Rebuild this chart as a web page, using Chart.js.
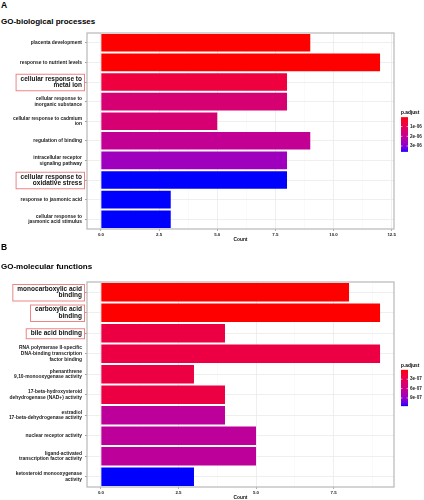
<!DOCTYPE html>
<html>
<head>
<meta charset="utf-8">
<script src="https://cdn.jsdelivr.net/npm/chart.js@4.4.1/dist/chart.umd.min.js"></script>
<style>
  body { margin: 0; width: 424px; height: 500px; position: relative; overflow: hidden; background: #fff;
         font-family: "Liberation Sans", Arial, sans-serif; color: #000; }
  .tag { position: absolute; left: 1px; font-weight: bold; font-size: 8.5px; line-height: 1; }
  .ttl { position: absolute; left: 1px; font-weight: bold; font-size: 8px; line-height: 1; }
  canvas { position: absolute; left: 0; }
</style>
</head>
<body>
<div class="tag" style="top:1px">A</div>
<div class="ttl" style="top:18px">GO-biological processes</div>
<canvas id="bp" width="424" height="215" style="top:28px"></canvas>
<div class="tag" style="top:243px">B</div>
<div class="ttl" style="top:263px">GO-molecular functions</div>
<canvas id="mf" width="424" height="224" style="top:277px"></canvas>
<script>
// --- A: GO biological processes ---
const bpTerms = [
  'placenta development',
  'response to nutrient levels',
  ['cellular response to', 'metal ion'],
  ['cellular response to', 'inorganic substance'],
  ['cellular response to cadmium', 'ion'],
  'regulation of binding',
  ['intracellular receptor', 'signaling pathway'],
  ['cellular response to', 'oxidative stress'],
  'response to jasmonic acid',
  ['cellular response to', 'jasmonic acid stimulus']
];
const bpCount = [9, 12, 8, 8, 5, 9, 8, 8, 3, 3];
const bpPadj = [3e-8, 3e-8, 0.67e-6, 1.46e-6, 1.46e-6, 1.99e-6, 2.64e-6, 3.6e-6, 3.6e-6, 3.6e-6];
const bpMarked = [false, false, true, false, false, false, false, true, false, false];
const bpTicks = [0, 2.5, 5, 7.5, 10, 12.5];
const bpTickLabels = ['0.0', '2.5', '5.0', '7.5', '10.0', '12.5'];
const bpKeyValues = [1e-6, 2e-6, 3e-6];
const bpKeyLabels = ['1e-06', '2e-06', '3e-06'];

// --- B: GO molecular functions ---
const mfTerms = [
  ['monocarboxylic acid', 'binding'],
  ['carboxylic acid', 'binding'],
  'bile acid binding',
  ['RNA polymerase II-specific', 'DNA-binding transcription', 'factor binding'],
  ['phenanthrene', '9,10-monooxygenase activity'],
  ['17-beta-hydroxysteroid', 'dehydrogenase (NAD+) activity'],
  ['estradiol', '17-beta-dehydrogenase activity'],
  'nuclear receptor activity',
  ['ligand-activated', 'transcription factor activity'],
  ['ketosteroid monooxygenase', 'activity']
];
const mfCount = [8, 9, 4, 9, 3, 4, 4, 5, 5, 3];
const mfPadj = [2e-9, 2e-9, 2.3e-7, 2.3e-7, 2.3e-7, 2.3e-7, 6.7e-7, 6.7e-7, 6.7e-7, 1.16e-6];
const mfMarked = [true, true, true, false, false, false, false, false, false, false];
const mfTicks = [0, 2.5, 5, 7.5];
const mfTickLabels = ['0.0', '2.5', '5.0', '7.5'];
const mfKeyValues = [3e-7, 6e-7, 9e-7];
const mfKeyLabels = ['3e-07', '6e-07', '9e-07'];

// red -> blue in Lab space, like ggplot's continuous colour scale
const lin = c => { c /= 255; return c <= 0.04045 ? c / 12.92 : Math.pow((c + 0.055) / 1.055, 2.4); };
const gam = c => { c = c <= 0.0031308 ? 12.92 * c : 1.055 * Math.pow(c, 1 / 2.4) - 0.055; return Math.round(Math.max(0, Math.min(1, c)) * 255); };
function rgb2lab(rgb) {
  const [r, g, b] = rgb.map(lin);
  const x = (0.4124 * r + 0.3576 * g + 0.1805 * b) / 0.95047;
  const y = 0.2126 * r + 0.7152 * g + 0.0722 * b;
  const z = (0.0193 * r + 0.1192 * g + 0.9505 * b) / 1.08883;
  const f = t => t > 0.008856 ? Math.cbrt(t) : 7.787 * t + 16 / 116;
  return [116 * f(y) - 16, 500 * (f(x) - f(y)), 200 * (f(y) - f(z))];
}
function lab2rgb([L, a, bb]) {
  const fy = (L + 16) / 116, fx = fy + a / 500, fz = fy - bb / 200;
  const fi = t => t * t * t > 0.008856 ? t * t * t : (t - 16 / 116) / 7.787;
  const x = fi(fx) * 0.95047, y = fi(fy), z = fi(fz) * 1.08883;
  const r = 3.2406 * x - 1.5372 * y - 0.4986 * z;
  const g = -0.9689 * x + 1.8758 * y + 0.0415 * z;
  const b = 0.0557 * x - 0.2040 * y + 1.0570 * z;
  return 'rgb(' + gam(r) + ',' + gam(g) + ',' + gam(b) + ')';
}
const LOW = rgb2lab([255, 0, 0]), HIGH = rgb2lab([0, 0, 255]);
const padjColor = t => lab2rgb(LOW.map((v, i) => v + (HIGH[i] - v) * t));

const SMALL = { family: 'Liberation Sans', size: 4.9, weight: 'bold', lineHeight: 1.15 };
const BOLD = { family: 'Liberation Sans', size: 6.5, weight: 'bold', lineHeight: 1.0 };

const panelBorder = {
  id: 'panelBorder',
  afterDraw(chart) {
    const { ctx, chartArea: a } = chart;
    ctx.save();
    ctx.strokeStyle = '#b8b8b8';
    ctx.lineWidth = 1.2;
    ctx.strokeRect(a.left, a.top, a.right - a.left, a.bottom - a.top);
    ctx.restore();
  }
};

// red boxes around the highlighted terms
const markBoxes = {
  id: 'markBoxes',
  afterDraw(chart, args, opts) {
    const { ctx } = chart;
    const sy = chart.scales.y;
    ctx.save();
    ctx.font = 'bold ' + BOLD.size + 'px "Liberation Sans"';
    ctx.strokeStyle = '#ee8585';
    ctx.lineWidth = 1;
    opts.marked.forEach((m, i) => {
      if (!m) return;
      const label = chart.data.labels[i];
      const lines = Array.isArray(label) ? label : [label];
      const w = Math.max(...lines.map(l => ctx.measureText(l).width));
      const h = lines.length * BOLD.size * BOLD.lineHeight + 3.5;
      const right = sy.right - 5 + 2.5;
      const y = sy.getPixelForTick(i);
      ctx.strokeRect(right - w - 7, y - h / 2 + 0.5, w + 7, h);
    });
    ctx.restore();
  }
};

// colour bar key for p.adjust
const padjLegend = {
  id: 'padjLegend',
  afterDraw(chart, args, opts) {
    const { ctx, chartArea: a } = chart;
    const barH = (a.bottom - a.top) * 0.177;
    const top = (a.top + a.bottom) / 2 - (barH - 7) / 2;
    const x = a.right + 7, w = 7;
    ctx.save();
    ctx.fillStyle = '#000';
    ctx.font = 'bold 4.8px "Liberation Sans"';
    ctx.textBaseline = 'middle';
    ctx.fillText('p.adjust', x, top - 4.5);
    const grad = ctx.createLinearGradient(0, top, 0, top + barH);
    for (let k = 0; k <= 20; k++) grad.addColorStop(k / 20, padjColor(k / 20));
    ctx.fillStyle = grad;
    ctx.fillRect(x, top, w, barH);
    ctx.font = 'bold 4.6px "Liberation Sans"';
    ctx.fillStyle = '#222';
    ctx.strokeStyle = '#fff';
    ctx.lineWidth = 0.6;
    opts.values.forEach((v, i) => {
      const y = top + (v - opts.min) / (opts.max - opts.min) * barH;
      ctx.beginPath();
      ctx.moveTo(x, y); ctx.lineTo(x + 1.4, y);
      ctx.moveTo(x + w - 1.4, y); ctx.lineTo(x + w, y);
      ctx.stroke();
      ctx.fillText(opts.labels[i], x + w + 2, y);
    });
    ctx.restore();
  }
};

function buildChart(id, terms, counts, padj, marked, ticks, tickLabels, keyValues, keyLabels) {
  const pMin = Math.min(...padj), pMax = Math.max(...padj);
  const maxCount = Math.max(...counts);
  const xMin = -0.05 * maxCount, xMax = maxCount * 1.05;
  const step = ticks[1] - ticks[0];
  const allTicks = ticks.slice();
  for (let v = ticks[0] - step / 2; v <= xMax; v += step) if (v >= xMin) allTicks.push(v);
  allTicks.sort((p, q) => p - q);
  const isMajor = v => ticks.indexOf(v) >= 0;

  return new Chart(document.getElementById(id), {
    type: 'bar',
    data: {
      labels: terms,
      datasets: [{
        data: counts,
        backgroundColor: padj.map(p => padjColor((p - pMin) / (pMax - pMin))),
        borderWidth: 0,
        barPercentage: 0.9,
        categoryPercentage: 1
      }]
    },
    options: {
      indexAxis: 'y',
      responsive: false,
      animation: false,
      events: [],
      layout: { padding: { top: 5, right: 30, left: 0, bottom: 0 } },
      plugins: {
        legend: { display: false },
        tooltip: { enabled: false },
        markBoxes: { marked: marked },
        padjLegend: { min: pMin, max: pMax, values: keyValues, labels: keyLabels }
      },
      scales: {
        x: {
          min: xMin,
          max: xMax,
          afterBuildTicks: s => { s.ticks = allTicks.map(v => ({ value: v })); },
          afterFit: s => { s.height = 14; s.paddingLeft = 0; s.paddingRight = 0; },
          border: { display: false },
          grid: {
            color: c => c.tick && isMajor(c.tick.value) ? '#ebebeb' : '#f4f4f4',
            lineWidth: c => c.tick && isMajor(c.tick.value) ? 0.8 : 0.5,
            tickColor: c => c.tick && isMajor(c.tick.value) ? '#999' : 'rgba(0,0,0,0)',
            tickLength: 2
          },
          ticks: {
            autoSkip: false,
            maxRotation: 0,
            padding: 1,
            color: '#222',
            font: { family: 'Liberation Sans', size: 4.4, weight: 'bold' },
            callback: v => { const k = ticks.indexOf(v); return k >= 0 ? tickLabels[k] : ''; }
          },
          title: {
            display: true,
            text: 'Count',
            color: '#111',
            padding: 0,
            font: { family: 'Liberation Sans', size: 4.8, weight: 'bold' }
          }
        },
        y: {
          afterFit: s => { s.width = 87; s.paddingTop = 0; s.paddingBottom = 0; },
          border: { display: false },
          grid: { offset: false, color: '#ebebeb', lineWidth: 0.8, tickColor: '#888', tickLength: 2 },
          ticks: {
            autoSkip: false,
            padding: 3,
            color: c => marked[c.index] ? '#111' : '#1a1a1a',
            font: c => marked[c.index] ? BOLD : SMALL
          }
        }
      }
    },
    plugins: [panelBorder, markBoxes, padjLegend]
  });
}

buildChart('bp', bpTerms, bpCount, bpPadj, bpMarked, bpTicks, bpTickLabels, bpKeyValues, bpKeyLabels);
buildChart('mf', mfTerms, mfCount, mfPadj, mfMarked, mfTicks, mfTickLabels, mfKeyValues, mfKeyLabels);
</script>
</body>
</html>
